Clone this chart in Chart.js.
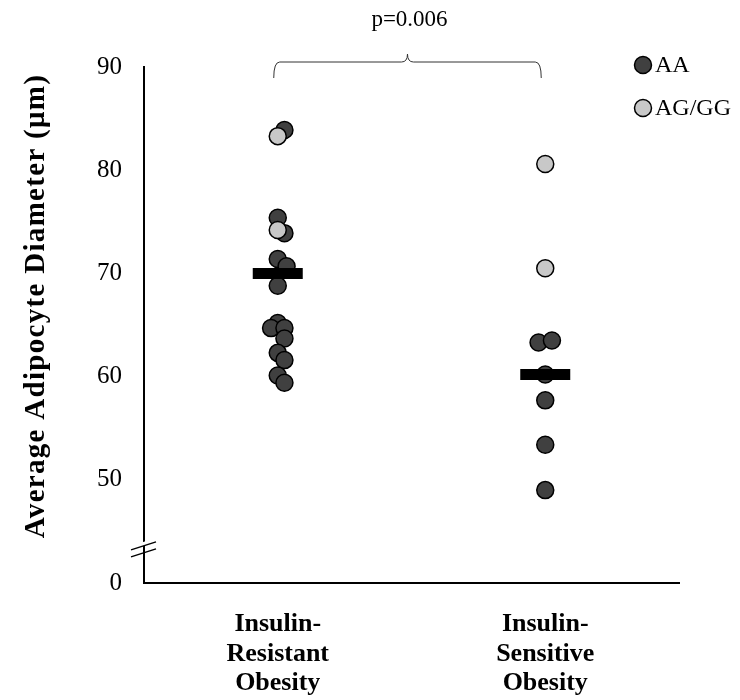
<!DOCTYPE html>
<html>
<head>
<meta charset="utf-8">
<script src="https://cdn.jsdelivr.net/npm/chart.js@4.4.1/dist/chart.umd.min.js"></script>
<style>
  body { margin: 0; background: #fff; }
</style>
</head>
<body>
<canvas id="myChart" width="740" height="700"></canvas>
<script>
// Categories and tick labels
var categories = [['Insulin-', 'Resistant', 'Obesity'], ['Insulin-', 'Sensitive', 'Obesity']];
var yTickValues = [40, 50, 60, 70, 80, 90];
var yTickLabels = ['0', '50', '60', '70', '80', '90'];

// Insulin-resistant group (x = 1 plus a little jitter)
var resistantAA   = [83.9, 75.4, 73.9, 71.4, 70.7, 68.8, 65.2, 64.7, 64.7, 63.7, 62.3, 61.6, 60.1, 59.4];
var resistantAAx  = [1.025, 1, 1.025, 1, 1.033, 1, 1, 0.975, 1.025, 1.025, 1, 1.025, 1, 1.025];
var resistantAG   = [83.3, 74.2];
var resistantAGx  = [1, 1];

// Insulin-sensitive group (x = 2)
var sensitiveAA   = [63.3, 63.5, 60.2, 57.7, 53.4, 49.0];
var sensitiveAAx  = [1.975, 2.025, 2, 2, 2, 2];
var sensitiveAG   = [80.6, 70.5];
var sensitiveAGx  = [2, 2];

// Group averages (black bars)
var groupMeans = [70.0, 60.2];

var legendOrder = ['AA', 'AG/GG'];
var pValueText = 'p=0.006';
var yTitle = 'Average Adipocyte Diameter (\u03bcm)';

function toPoints(xs, ys) {
  return ys.map(function (y, i) { return { x: xs[i], y: y }; });
}

var serif = '"Liberation Serif", "Times New Roman", serif';

// Y axis title, axis break, bracket with p-value, legend
var decorations = {
  id: 'decorations',
  afterDraw: function (chart) {
    var ctx = chart.ctx;
    var xs = chart.scales.x, ys = chart.scales.y;
    var area = chart.chartArea;

    // y title
    ctx.save();
    ctx.translate(37, 306);
    ctx.rotate(-Math.PI / 2);
    ctx.font = 'bold 29px ' + serif;
    ctx.letterSpacing = '1.3px';
    ctx.fillStyle = '#000';
    ctx.textAlign = 'center';
    ctx.textBaseline = 'middle';
    ctx.fillText(yTitle, 0, 0);
    ctx.restore();

    // axis break
    var by = ys.getPixelForValue(43.6);
    var ax = area.left;
    ctx.save();
    ctx.fillStyle = '#fff';
    ctx.beginPath();
    ctx.moveTo(ax - 3, by + 1);
    ctx.lineTo(ax + 3, by - 1);
    ctx.lineTo(ax + 3, by - 5);
    ctx.lineTo(ax - 3, by - 3);
    ctx.closePath();
    ctx.fill();
    ctx.strokeStyle = '#000';
    ctx.lineWidth = 1.5;
    ctx.beginPath();
    ctx.moveTo(ax - 13, by + 4);
    ctx.lineTo(ax + 12, by - 4);
    ctx.moveTo(ax - 13, by + 11);
    ctx.lineTo(ax + 12, by + 3);
    ctx.stroke();
    ctx.restore();

    // bracket
    var x1 = xs.getPixelForValue(0.985), x2 = xs.getPixelForValue(1.985);
    var xm = (x1 + x2) / 2;
    var top = ys.getPixelForValue(90);
    var yl = top - 5;
    ctx.save();
    ctx.strokeStyle = '#333';
    ctx.lineWidth = 1;
    ctx.beginPath();
    ctx.moveTo(x1, top + 11);
    ctx.quadraticCurveTo(x1, yl, x1 + 6, yl);
    ctx.lineTo(xm - 6, yl);
    ctx.quadraticCurveTo(xm, yl, xm, yl - 8);
    ctx.quadraticCurveTo(xm, yl, xm + 6, yl);
    ctx.lineTo(x2 - 6, yl);
    ctx.quadraticCurveTo(x2, yl, x2, top + 11);
    ctx.stroke();
    ctx.fillStyle = '#000';
    ctx.font = '23px ' + serif;
    ctx.textAlign = 'center';
    ctx.textBaseline = 'middle';
    ctx.fillText(pValueText, xm + 2, 20);
    ctx.restore();

    // legend
    ctx.save();
    ctx.font = '24px ' + serif;
    ctx.textBaseline = 'middle';
    legendOrder.forEach(function (name, i) {
      var d = chart.data.datasets.find(function (s) { return s.label === name; });
      var cy = 65 + i * 43;
      ctx.beginPath();
      ctx.arc(643, cy, 8.5, 0, Math.PI * 2);
      ctx.fillStyle = d.backgroundColor;
      ctx.fill();
      ctx.lineWidth = 1.5;
      ctx.strokeStyle = '#000';
      ctx.stroke();
      ctx.fillStyle = '#000';
      ctx.fillText(d.label, 655, cy + 1);
    });
    ctx.restore();
  }
};

var ctx = document.getElementById('myChart').getContext('2d');

var myChart = new Chart(ctx, {
  type: 'scatter',
  data: {
    datasets: [{
      label: 'Mean',
      data: toPoints([1, 2], groupMeans),
      pointStyle: 'line',
      pointRadius: 25,
      pointHoverRadius: 25,
      borderColor: '#000',
      borderWidth: 11,
      backgroundColor: '#000',
      order: 0
    }, {
      label: 'AG/GG',
      data: toPoints(resistantAGx, resistantAG).concat(toPoints(sensitiveAGx, sensitiveAG)),
      backgroundColor: '#c8c8c8',
      borderColor: '#000',
      borderWidth: 1.5,
      pointRadius: 8.5,
      pointHoverRadius: 8.5,
      order: 1
    }, {
      label: 'AA',
      data: toPoints(resistantAAx, resistantAA).concat(toPoints(sensitiveAAx, sensitiveAA)),
      backgroundColor: '#404040',
      borderColor: '#000',
      borderWidth: 1.5,
      pointRadius: 8.5,
      pointHoverRadius: 8.5,
      order: 2
    }]
  },
  options: {
    responsive: false,
    animation: false,
    layout: { padding: { top: 67, right: 61, bottom: 0, left: 0 } },
    plugins: {
      legend: { display: false },
      tooltip: { enabled: false }
    },
    scales: {
      x: {
        type: 'linear',
        min: 0.5,
        max: 2.5,
        grid: { display: false, drawTicks: false },
        border: { display: true, color: '#000', width: 2 },
        afterBuildTicks: function (s) { s.ticks = [{ value: 1 }, { value: 2 }]; },
        afterFit: function (s) { s.height = 117; },
        ticks: {
          autoSkip: false,
          maxRotation: 0,
          padding: 26,
          color: '#000',
          font: { family: serif, size: 26, weight: 'bold', lineHeight: 1.15 },
          callback: function (v, i) { return categories[i]; }
        }
      },
      y: {
        min: 40,
        max: 90,
        grid: { display: false, drawTicks: false },
        border: { display: true, color: '#000', width: 2 },
        afterBuildTicks: function (s) { s.ticks = yTickValues.map(function (v) { return { value: v }; }); },
        afterFit: function (s) { s.width = 144; },
        ticks: {
          padding: 22,
          color: '#000',
          font: { family: serif, size: 25 },
          callback: function (v, i) { return yTickLabels[i]; }
        }
      }
    }
  },
  plugins: [decorations]
});
</script>
</body>
</html>
